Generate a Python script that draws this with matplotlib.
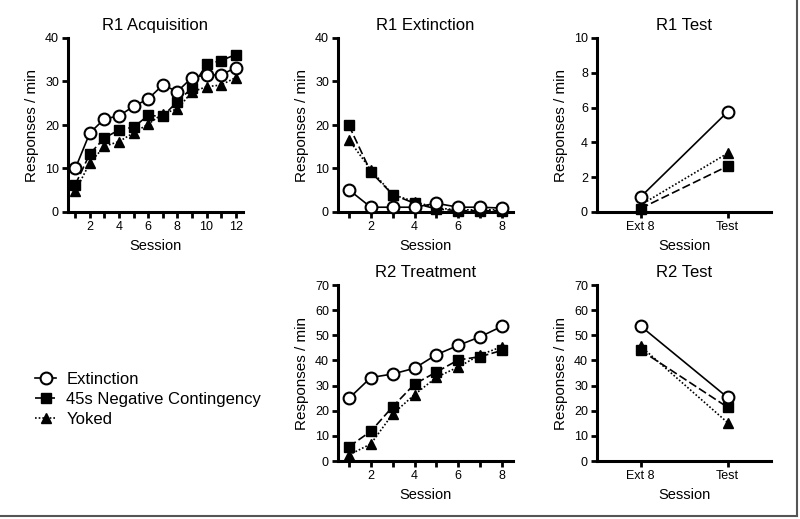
import matplotlib
matplotlib.use("Agg")
import matplotlib.pyplot as plt
from matplotlib.lines import Line2D
from matplotlib.ticker import MultipleLocator

plt.rcParams['font.family'] = ['Liberation Sans', 'DejaVu Sans']

# ---------------- data ----------------
acq_sessions = [1, 2, 3, 4, 5, 6, 7, 8, 9, 10, 11, 12]
acq_ext = [10.0, 18.2, 21.4, 22.1, 24.3, 26.0, 29.2, 27.7, 30.9, 31.5, 31.5, 33.2]
acq_neg = [6.3, 13.4, 17.0, 18.9, 19.5, 22.2, 22.0, 25.4, 28.5, 34.0, 34.8, 36.2]
acq_yok = [4.8, 11.3, 15.1, 16.2, 18.2, 20.2, 22.6, 23.7, 27.6, 28.8, 29.2, 30.9]

ext_sessions = [1, 2, 3, 4, 5, 6, 7, 8]
ext_ext = [5.1, 1.1, 1.1, 1.1, 2.0, 1.1, 1.1, 0.9]
ext_neg = [19.9, 9.2, 4.0, 2.0, 0.7, 0.3, 0.3, 0.3]
ext_yok = [16.6, 9.7, 4.0, 2.4, 0.9, 0.5, 0.5, 0.5]

test_labels = ['Ext 8', 'Test']
r1t_ext = [0.86, 5.75]
r1t_neg = [0.2, 2.63]
r1t_yok = [0.4, 3.37]

trt_sessions = [1, 2, 3, 4, 5, 6, 7, 8]
trt_ext = [24.9, 33.2, 34.6, 36.9, 42.3, 46.0, 49.4, 53.6]
trt_neg = [5.7, 11.8, 21.6, 30.6, 35.4, 40.2, 41.5, 44.0]
trt_yok = [2.4, 6.8, 18.7, 26.4, 33.3, 37.4, 42.2, 45.5]

r2t_ext = [53.7, 25.3]
r2t_neg = [44.1, 21.4]
r2t_yok = [45.7, 15.3]

group_names = ['Extinction', '45s Negative Contingency', 'Yoked']

# ---------------- style ----------------
styles = [
    dict(linestyle='-', marker='o', markerfacecolor='white', markeredgecolor='black',
         markersize=8.5, markeredgewidth=1.5),
    dict(linestyle=(0, (5, 2)), marker='s', markerfacecolor='black', markeredgecolor='black',
         markersize=7),
    dict(linestyle=(0, (1, 1.2)), marker='^', markerfacecolor='black', markeredgecolor='black',
         markersize=6.5),
]

fig = plt.figure(figsize=(8.0, 5.19), dpi=100)

W, H = 800.0, 519.0
def ax_at(x0, y0, x1, y1):
    return fig.add_axes([x0 / W, 1 - y1 / H, (x1 - x0) / W, (y1 - y0) / H])

def style_axes(ax, title, ymax, ystep, xlabel=True):
    ax.set_title(title, fontsize=12, pad=6)
    ax.spines['top'].set_visible(False)
    ax.spines['right'].set_visible(False)
    for s in ['left', 'bottom']:
        ax.spines[s].set_linewidth(2.2)
    ax.set_ylim(0, ymax)
    ax.yaxis.set_major_locator(MultipleLocator(ystep))
    ax.tick_params(axis='both', which='both', width=2, length=4.5, labelsize=9, pad=2)
    ax.set_ylabel('Responses / min', fontsize=11, labelpad=4)
    if xlabel:
        ax.set_xlabel('Session', fontsize=10.5, labelpad=4)

def plot_groups(ax, x, series):
    for i in [2, 1, 0]:
        ax.plot(x, series[i], color='black', linewidth=1.2, clip_on=False,
                zorder=3 + (2 - i), **styles[i])

# R1 Acquisition
ax1 = ax_at(68, 38, 243, 212)
plot_groups(ax1, acq_sessions, [acq_ext, acq_neg, acq_yok])
ax1.set_xlim(0.5, 12.5)
ax1.xaxis.set_major_locator(MultipleLocator(2))
ax1.xaxis.set_minor_locator(MultipleLocator(1))
style_axes(ax1, 'R1 Acquisition', 40, 10, xlabel=True)

# R1 Extinction
ax2 = ax_at(338, 38, 513, 212)
plot_groups(ax2, ext_sessions, [ext_ext, ext_neg, ext_yok])
ax2.set_xlim(0.5, 8.5)
ax2.xaxis.set_major_locator(MultipleLocator(2))
ax2.xaxis.set_minor_locator(MultipleLocator(1))
style_axes(ax2, 'R1 Extinction', 40, 10)

# R1 Test
ax3 = ax_at(597, 38, 771, 212)
plot_groups(ax3, [0, 1], [r1t_ext, r1t_neg, r1t_yok])
ax3.set_xlim(-0.5, 1.5)
ax3.set_xticks([0, 1])
ax3.set_xticklabels(test_labels)
style_axes(ax3, 'R1 Test', 10, 2)

# R2 Treatment
ax4 = ax_at(338, 285, 513, 461)
plot_groups(ax4, trt_sessions, [trt_ext, trt_neg, trt_yok])
ax4.set_xlim(0.5, 8.5)
ax4.xaxis.set_major_locator(MultipleLocator(2))
ax4.xaxis.set_minor_locator(MultipleLocator(1))
style_axes(ax4, 'R2 Treatment', 70, 10)

# R2 Test
ax5 = ax_at(597, 285, 771, 461)
plot_groups(ax5, [0, 1], [r2t_ext, r2t_neg, r2t_yok])
ax5.set_xlim(-0.5, 1.5)
ax5.set_xticks([0, 1])
ax5.set_xticklabels(test_labels)
style_axes(ax5, 'R2 Test', 70, 10)

# Legend
handles = [Line2D([], [], color='black', linewidth=1.2, **styles[i]) for i in range(3)]
fig.legend(handles, group_names, loc='upper left', bbox_to_anchor=(28 / W, 1 - 365 / H),
           frameon=False, fontsize=12, handlelength=1.3, handletextpad=0.6,
           labelspacing=0.3, borderaxespad=0)

# Figure frame (right & bottom edges)
fig.add_artist(Line2D([797 / W, 797 / W], [3 / H, 1.0], transform=fig.transFigure,
                      color='#555555', linewidth=1.5))
fig.add_artist(Line2D([0, 797 / W], [3 / H, 3 / H], transform=fig.transFigure,
                      color='#555555', linewidth=1.5))

fig.savefig('out.png', dpi=100)
